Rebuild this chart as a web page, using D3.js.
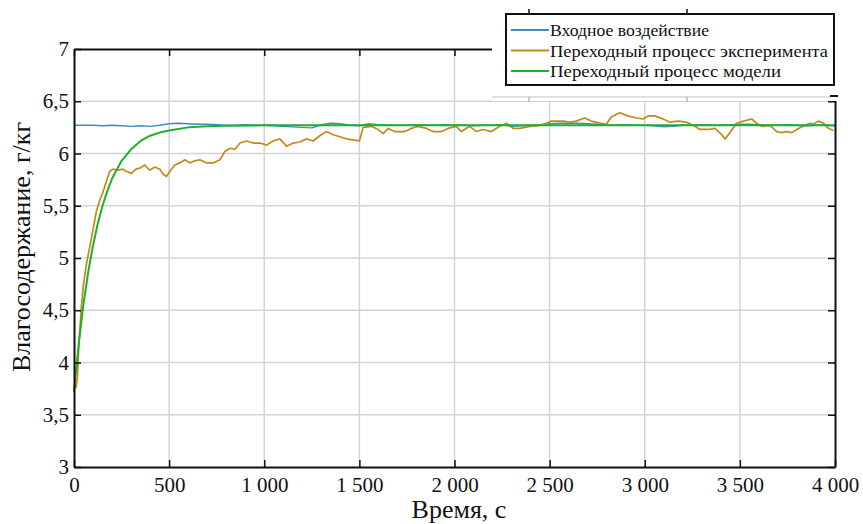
<!DOCTYPE html>
<html lang="ru">
<head>
    <meta charset="UTF-8">
    <title>Влагосодержание</title>
    <script src="https://d3js.org/d3.v7.min.js"></script>
    <style>
        body { margin: 0; background: white; }
        svg text { font-family: "Liberation Serif", "Times New Roman", Times, "DejaVu Serif", "Noto Serif", serif !important; fill: #111; }
    </style>
</head>
<body>
    <svg id="svg1" width="863" height="524" style="background: white"></svg>

    <script>
        // data ------------------------------------------------------------------
        const xTicks = [0, 500, 1000, 1500, 2000, 2500, 3000, 3500, 4000];
        const yTicks = [3, 3.5, 4, 4.5, 5, 5.5, 6, 6.5, 7];
        const seriesNames = ["Входное воздействие", "Переходный процесс эксперимента", "Переходный процесс модели"];
        const seriesColors = ["#3a8cc6", "#c4891c", "#1fb02a"];

        // [time, value]
        const inputData = [
            [0, 6.27], [50, 6.27], [100, 6.27], [150, 6.265], [200, 6.27], [250, 6.265], [300, 6.26], [350, 6.265],
            [400, 6.26], [450, 6.27], [500, 6.285], [550, 6.29], [600, 6.285], [650, 6.28], [700, 6.28], [750, 6.275],
            [800, 6.27], [850, 6.27], [900, 6.275], [950, 6.27], [1000, 6.27], [1050, 6.265], [1100, 6.26], [1150, 6.255],
            [1200, 6.25], [1250, 6.245], [1300, 6.275], [1350, 6.29], [1400, 6.285], [1450, 6.27], [1500, 6.265],
            [1550, 6.285], [1600, 6.275], [1650, 6.27], [1700, 6.27], [1750, 6.27], [1800, 6.275], [1850, 6.27],
            [1900, 6.27], [1950, 6.275], [2000, 6.27], [2050, 6.27], [2100, 6.265], [2150, 6.27], [2200, 6.27],
            [2250, 6.275], [2300, 6.26], [2350, 6.265], [2400, 6.27], [2450, 6.275], [2500, 6.285], [2550, 6.29],
            [2600, 6.29], [2650, 6.29], [2700, 6.285], [2750, 6.28], [2800, 6.27], [2850, 6.27], [2900, 6.275],
            [2950, 6.27], [3000, 6.27], [3050, 6.265], [3100, 6.255], [3150, 6.26], [3200, 6.27], [3250, 6.27],
            [3300, 6.275], [3350, 6.27], [3400, 6.27], [3450, 6.275], [3500, 6.28], [3550, 6.28], [3600, 6.275],
            [3650, 6.27], [3700, 6.27], [3750, 6.275], [3800, 6.27], [3850, 6.265], [3900, 6.27], [3950, 6.27], [4000, 6.265]
        ];

        const experimentData = [
            [0, 3.77], [10, 3.76], [18, 3.85], [25, 4.15], [39, 4.54], [50, 4.75], [65, 4.94], [80, 5.08], [100, 5.27],
            [118, 5.45], [135, 5.55], [150, 5.62], [161, 5.68], [175, 5.76], [188, 5.83], [205, 5.85], [230, 5.84],
            [255, 5.85], [275, 5.83], [302, 5.81], [325, 5.85], [346, 5.86], [372, 5.89], [398, 5.84], [425, 5.87],
            [451, 5.85], [470, 5.80], [486, 5.78], [504, 5.83], [530, 5.89], [556, 5.91], [583, 5.94], [609, 5.91],
            [635, 5.93], [662, 5.94], [697, 5.91], [732, 5.91], [767, 5.94], [793, 6.02], [820, 6.05], [846, 6.04],
            [872, 6.10], [907, 6.12], [942, 6.10], [977, 6.10], [1012, 6.08], [1047, 6.12], [1082, 6.14], [1117, 6.07],
            [1152, 6.10], [1187, 6.11], [1222, 6.14], [1257, 6.12], [1292, 6.17], [1327, 6.21], [1362, 6.18],
            [1397, 6.16], [1432, 6.14], [1467, 6.13], [1500, 6.12], [1520, 6.25], [1563, 6.26], [1598, 6.23],
            [1625, 6.19], [1651, 6.24], [1686, 6.21], [1738, 6.21], [1773, 6.24], [1808, 6.26], [1852, 6.24],
            [1887, 6.21], [1931, 6.21], [1966, 6.24], [2010, 6.26], [2036, 6.21], [2080, 6.26], [2115, 6.21],
            [2150, 6.23], [2194, 6.21], [2238, 6.26], [2273, 6.29], [2308, 6.24], [2343, 6.24], [2396, 6.26],
            [2448, 6.27], [2483, 6.29], [2509, 6.31], [2570, 6.31], [2605, 6.30], [2640, 6.31], [2684, 6.34],
            [2719, 6.31], [2763, 6.29], [2798, 6.28], [2824, 6.35], [2868, 6.39], [2912, 6.36], [2957, 6.34],
            [2992, 6.33], [3018, 6.36], [3053, 6.36], [3097, 6.33], [3132, 6.30], [3176, 6.31], [3220, 6.30],
            [3264, 6.26], [3290, 6.23], [3334, 6.23], [3369, 6.24], [3404, 6.18], [3422, 6.14], [3448, 6.20],
            [3483, 6.29], [3518, 6.31], [3562, 6.33], [3588, 6.29], [3615, 6.26], [3658, 6.27], [3694, 6.21],
            [3720, 6.20], [3746, 6.21], [3773, 6.20], [3808, 6.24], [3843, 6.27], [3869, 6.29], [3886, 6.28],
            [3913, 6.31], [3939, 6.29], [3966, 6.24], [3992, 6.22]
        ];

        const modelData = [
            [0, 3.72], [25, 4.18], [50, 4.56], [75, 4.87], [100, 5.12], [125, 5.33], [150, 5.50], [175, 5.64],
            [200, 5.76], [250, 5.93], [300, 6.04], [350, 6.12], [400, 6.17], [450, 6.20], [500, 6.22], [600, 6.25],
            [700, 6.26], [800, 6.265], [1000, 6.27], [2000, 6.27], [3000, 6.27], [4000, 6.27]
        ];

        // chart setup -------------------------------------------------------------
        const svg = d3.select("svg#svg1");
        const margin = {top: 49, right: 28, bottom: 57, left: 74};
        const width = 863 - margin.left - margin.right;
        const height = 524 - margin.top - margin.bottom;
        const serif = '"Liberation Serif", "Times New Roman", Times, "DejaVu Serif", serif';

        const x = d3.scaleLinear().domain([0, 4000]).range([margin.left, margin.left + width]);
        const y = d3.scaleLinear().domain([3, 7]).range([margin.top + height, margin.top]);

        const locale = d3.formatLocale({decimal: ",", thousands: " ", grouping: [3], currency: ["", ""]});
        const xFmt = locale.format(",d");
        const yFmt = locale.format("~g");

        // grid
        const grid = svg.append("g").attr("id", "grid");
        grid.selectAll("line.vg").data(xTicks.slice(1, -1)).join("line")
            .attr("x1", d => x(d)).attr("x2", d => x(d))
            .attr("y1", y(7)).attr("y2", y(3))
            .attr("stroke", "#d4d4d4").attr("stroke-width", 1.5);
        grid.selectAll("line.hg").data(yTicks.slice(1, -1)).join("line")
            .attr("x1", x(0)).attr("x2", x(4000))
            .attr("y1", d => y(d)).attr("y2", d => y(d))
            .attr("stroke", "#d4d4d4").attr("stroke-width", 1.5);

        // series
        const line = d3.line().x(d => x(d[0])).y(d => y(d[1]));
        const seriesData = [inputData, experimentData, modelData];
        const seriesWidths = [1.4, 1.7, 2];
        svg.append("g").attr("id", "lines").selectAll("path").data(seriesData).join("path")
            .attr("d", line)
            .attr("fill", "none")
            .attr("stroke", (d, i) => seriesColors[i])
            .attr("stroke-width", (d, i) => seriesWidths[i])
            .attr("stroke-linejoin", "round");

        // axes (ticks pointing inward)
        const axisStyle = g => {
            g.attr("font-family", serif);
            g.select(".domain").attr("stroke", "#111").attr("stroke-width", 2);
            g.selectAll(".tick line").attr("stroke", "#111").attr("stroke-width", 1.5);
            g.selectAll(".tick text").attr("font-family", serif).style("font-size", "21px").attr("fill", "#111");
        };

        svg.append("g")
            .attr("transform", `translate(0, ${y(3)})`)
            .call(d3.axisBottom(x).tickValues(xTicks).tickFormat(xFmt).tickSizeInner(-7).tickSizeOuter(0).tickPadding(10))
            .call(axisStyle);

        svg.append("g")
            .attr("transform", `translate(${x(0)}, 0)`)
            .call(d3.axisLeft(y).tickValues(yTicks).tickFormat(yFmt).tickSizeInner(-7).tickSizeOuter(0).tickPadding(5))
            .call(axisStyle);

        svg.append("g")
            .attr("transform", `translate(0, ${y(7)})`)
            .call(d3.axisTop(x).tickValues(xTicks).tickFormat("").tickSizeInner(-7).tickSizeOuter(0))
            .call(axisStyle);

        svg.append("g")
            .attr("transform", `translate(${x(4000)}, 0)`)
            .call(d3.axisRight(y).tickValues(yTicks).tickFormat("").tickSizeInner(-7).tickSizeOuter(0))
            .call(axisStyle);

        // axis titles
        svg.append("text")
            .text("Время, с")
            .attr("x", 459).attr("y", 518)
            .attr("text-anchor", "middle")
            .attr("font-family", serif)
            .style("font-size", "26px");

        svg.append("text")
            .text("Влагосодержание, г/кг")
            .attr("transform", `translate(30, 247) rotate(-90)`)
            .attr("text-anchor", "middle")
            .attr("font-family", serif)
            .style("font-size", "26px");

        // legend patch (pasted over the upper right corner) -------------------------
        const leg = svg.append("g").attr("id", "legend");
        leg.append("rect")
            .attr("x", 492).attr("y", 0).attr("width", 371).attr("height", 101)
            .attr("fill", "white");
        leg.append("line")
            .attr("x1", 492).attr("x2", 831).attr("y1", 97).attr("y2", 97)
            .attr("stroke", "#d4d4d4").attr("stroke-width", 1.5);
        leg.append("line")
            .attr("x1", 830).attr("x2", 838).attr("y1", 96).attr("y2", 96)
            .attr("stroke", "#111").attr("stroke-width", 2);
        leg.selectAll("line.stub").data([529, 687]).join("line")
            .attr("x1", d => d).attr("x2", d => d).attr("y1", 97).attr("y2", 102)
            .attr("stroke", "#aaa").attr("stroke-width", 1.2);
        leg.selectAll("line.stubTop").data([529, 687]).join("line")
            .attr("x1", d => d).attr("x2", d => d).attr("y1", 9).attr("y2", 14)
            .attr("stroke", "#111").attr("stroke-width", 1.5);

        leg.append("rect")
            .attr("x", 506).attr("y", 14).attr("width", 328).attr("height", 71)
            .attr("fill", "white").attr("stroke", "#111").attr("stroke-width", 2);

        const legRowY = [30, 50.5, 71];
        const legTextLen = [159, 278, 231];
        const rows = leg.selectAll("g.row").data(seriesNames).join("g")
            .attr("transform", (d, i) => `translate(0, ${legRowY[i]})`);
        rows.append("line")
            .attr("x1", 511).attr("x2", 549)
            .attr("stroke", (d, i) => seriesColors[i]).attr("stroke-width", 2.2);
        rows.append("text")
            .text(d => d)
            .attr("x", 550).attr("y", 6)
            .attr("textLength", (d, i) => legTextLen[i])
            .attr("lengthAdjust", "spacingAndGlyphs")
            .attr("font-family", serif)
            .style("font-size", "17px");
    </script>
</body>
</html>
